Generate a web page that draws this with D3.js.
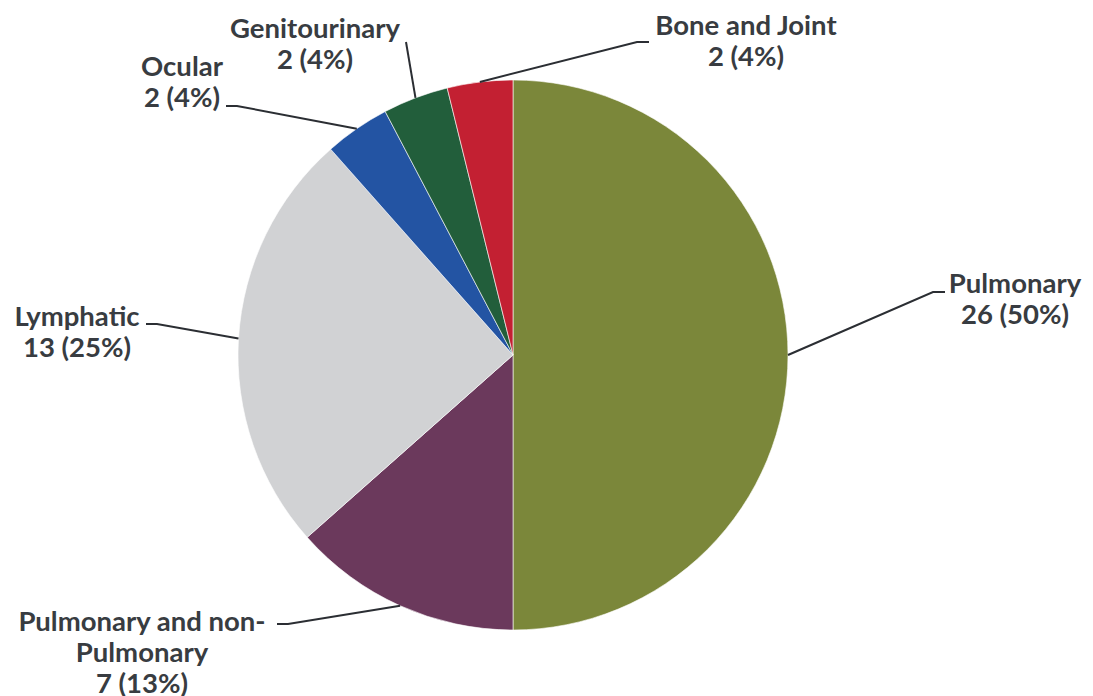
<!DOCTYPE html>
<html>
<head>
<meta charset="utf-8">
<script src="https://cdn.jsdelivr.net/npm/d3@7"></script>
<style>
  html, body { margin: 0; padding: 0; background: #fff; }
  svg { display: block; }
  text { font-family: Lato, "Open Sans", sans-serif; font-weight: 700; fill: #383c41; }
</style>
</head>
<body>
<svg id="chart" width="1093" height="696"></svg>
<script>
// ---- data ----
const categories = ["Pulmonary", "Pulmonary and non-Pulmonary", "Lymphatic", "Ocular", "Genitourinary", "Bone and Joint"];
const counts = [26, 7, 13, 2, 2, 2];
const colors = ["#7b873a", "#6b395c", "#d1d2d4", "#2354a3", "#225e3b", "#c32032"];

// ---- layout (label placement) ----
const labelLayout = [
  { tx: 1015, ty: 293, start: [945, 292], elbow: [933, 292] },
  { tx: 142,  ty: 631, start: [277, 624], elbow: [288, 624] },
  { tx: 77,   ty: 326, start: [146, 324], elbow: [157, 324] },
  { tx: 182,  ty: 76,  start: [226, 106], elbow: [237, 106] },
  { tx: 315,  ty: 38,  start: [406, 42],  elbow: [406, 42] },
  { tx: 746,  ty: 35,  start: [649, 42],  elbow: [637, 42] }
];

const W = 1093, H = 696;
const cx = 513, cy = 355, R = 275;
const fontSize = 27.5, lineH = 31, wrapWidth = 262;

const svg = d3.select("#chart");
const total = d3.sum(counts);
const data = categories.map((c, i) => ({ name: c, value: counts[i], color: colors[i], layout: labelLayout[i] }));

const pie = d3.pie().value(d => d.value).sort(null);
const arc = d3.arc().innerRadius(0).outerRadius(R);
const arcs = pie(data);

const g = svg.append("g").attr("transform", `translate(${cx},${cy})`);
g.selectAll("path.slice").data(arcs).join("path")
  .attr("class", "slice")
  .attr("d", arc)
  .attr("fill", d => d.data.color)
  .attr("stroke", "#ffffff")
  .attr("stroke-width", 0.6);

// leader lines
svg.selectAll("polyline.leader").data(arcs).join("polyline")
  .attr("class", "leader")
  .attr("fill", "none")
  .attr("stroke", "#2b2e33")
  .attr("stroke-width", 2)
  .attr("points", d => {
    const a = (d.startAngle + d.endAngle) / 2;
    const ex = cx + R * Math.sin(a), ey = cy - R * Math.cos(a);
    const L = d.data.layout;
    return [L.start, L.elbow, [ex, ey]].map(p => p.join(",")).join(" ");
  });

// measure helper
const measure = svg.append("text").attr("font-size", fontSize).attr("visibility", "hidden");
function textWidth(s) { measure.text(s); return measure.node().getComputedTextLength(); }
function wrap(s) {
  const tokens = s.match(/[^\s-]+-?\s?/g) || [s];
  const lines = [];
  let cur = "";
  tokens.forEach(t => {
    const trial = cur + t;
    if (cur && textWidth(trial.trim()) > wrapWidth) { lines.push(cur.trim()); cur = t; }
    else cur = trial;
  });
  if (cur) lines.push(cur.trim());
  return lines;
}

// labels
arcs.forEach(d => {
  const L = d.data.layout;
  const pct = Math.round(d.data.value / total * 100);
  const lines = wrap(d.data.name).concat([`${d.data.value} (${pct}%)`]);
  const t = svg.append("text")
    .attr("font-size", fontSize)
    .attr("text-anchor", "middle");
  lines.forEach((ln, i) => {
    t.append("tspan").attr("x", L.tx).attr("y", L.ty + i * lineH).text(ln);
  });
});
measure.remove();
</script>
</body>
</html>
